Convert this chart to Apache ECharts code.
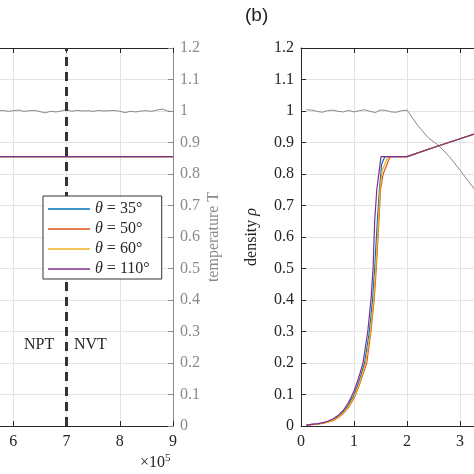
<!DOCTYPE html>
<html>
<head>
<meta charset="utf-8">
<script src="https://cdn.jsdelivr.net/npm/echarts@6/dist/echarts.min.js"></script>
<style>
  html, body { margin: 0; padding: 0; background: #fff; }
  #main { width: 474px; height: 474px; }
</style>
</head>
<body>
<div id="main"></div>
<script>
// ---- data ----
var seriesNames = ['θ = 35°', 'θ = 50°', 'θ = 60°', 'θ = 110°'];
var seriesColors = ['#0072BD', '#D95319', '#EDB120', '#7E2F8E'];

// (a) right part: time step vs temperature / density
var stepsA = [5.7e5, 5.8e5, 5.9e5, 6.0e5, 6.1e5, 6.2e5, 6.3e5, 6.4e5, 6.5e5, 6.6e5, 6.7e5, 6.8e5,
  6.9e5, 7.0e5, 7.1e5, 7.2e5, 7.3e5, 7.4e5, 7.5e5, 7.6e5, 7.7e5, 7.8e5, 7.9e5, 8.0e5, 8.1e5,
  8.2e5, 8.3e5, 8.4e5, 8.5e5, 8.6e5, 8.7e5, 8.8e5, 8.9e5, 9.0e5];
var tempA = [1.000, 1.002, 0.999, 1.001, 1.003, 0.999, 1.001, 1.002, 0.998, 0.994, 0.999, 0.997,
  1.000, 1.005, 0.999, 1.002, 1.000, 1.001, 0.999, 1.002, 1.000, 1.001, 1.002, 0.999, 0.995,
  0.999, 0.997, 1.000, 1.001, 0.999, 1.003, 1.006, 1.000, 0.998];
var rhoStepsA = [5.7e5, 7.0e5, 9.0e5];
var rhoA = [0.855, 0.855, 0.855];

// (b) temperature vs density
var tempX = [0.1, 0.2, 0.3, 0.4, 0.5, 0.6, 0.7, 0.8, 0.9, 1.0, 1.1, 1.2, 1.3, 1.4, 1.5, 1.6, 1.7,
  1.8, 1.9, 2.0, 2.2, 2.4, 2.6, 2.8, 3.0, 3.26, 3.5];
var rhoTemp = [1.004, 1.003, 0.999, 0.996, 1.001, 1.003, 0.999, 0.997, 1.002, 0.997, 1.001, 1.004,
  0.999, 0.995, 1.003, 1.002, 0.997, 0.996, 1.001, 1.003, 0.955, 0.915, 0.89, 0.855, 0.812, 0.755, 0.70];

var lowX = [0.1, 0.2, 0.3, 0.4, 0.5, 0.6, 0.7, 0.8, 0.9, 1.0, 1.1];
var highX = [2.0, 2.5, 3.0, 3.5];
var highRho = [0.855, 0.884, 0.912, 0.940];

var x35 = [1.20, 1.29, 1.35, 1.39, 1.44, 1.48, 1.52, 1.58];
var rho35 = [0.003, 0.005, 0.007, 0.009, 0.013, 0.019, 0.029, 0.045, 0.067, 0.098, 0.145,
  0.20, 0.30, 0.40, 0.50, 0.65, 0.75, 0.83, 0.855];
var x50 = [1.24, 1.32, 1.38, 1.42, 1.47, 1.50, 1.55, 1.68];
var rho50 = [0.003, 0.004, 0.006, 0.008, 0.012, 0.017, 0.026, 0.040, 0.060, 0.088, 0.130,
  0.20, 0.30, 0.40, 0.50, 0.65, 0.75, 0.80, 0.855];
var x60 = [1.22, 1.31, 1.37, 1.41, 1.46, 1.49, 1.53, 1.64];
var rho60 = [0.003, 0.004, 0.006, 0.009, 0.012, 0.018, 0.027, 0.042, 0.063, 0.092, 0.135,
  0.20, 0.30, 0.40, 0.50, 0.65, 0.75, 0.81, 0.855];
var x110 = [1.17, 1.26, 1.32, 1.36, 1.39, 1.43, 1.51];
var rho110 = [0.003, 0.005, 0.007, 0.010, 0.015, 0.022, 0.033, 0.050, 0.075, 0.110, 0.160,
  0.20, 0.30, 0.40, 0.50, 0.65, 0.75, 0.855];

var yTicks = { min: 0, max: 1.2, interval: 0.1 };

// ---- helpers ----
function zip(xs, ys) {
  var out = [];
  for (var i = 0; i < xs.length; i++) out.push([xs[i], ys[i]]);
  return out;
}
function curve(midX, rho) {
  return zip(lowX.concat(midX).concat(highX), rho.concat(highRho));
}

var serif = 'Liberation Serif';
var dark = '#262626';
var grey = '#8a8a8a';
var gridColor = '#e3e3e3';

function yLabel(v) { return String(+v.toFixed(1)); }

function bottomAxis(grid, min, max, interval, fmt) {
  return {
    type: 'value', gridIndex: grid, position: 'bottom', min: min, max: max, interval: interval,
    axisLine: { show: true, lineStyle: { color: dark, width: 1 } },
    axisTick: { show: true, inside: true, length: 5, lineStyle: { color: dark } },
    axisLabel: { margin: 8, fontFamily: serif, fontSize: 16, color: dark, formatter: fmt },
    splitLine: { show: true, lineStyle: { color: gridColor, width: 1 } }
  };
}
function topAxis(grid, min, max, interval) {
  return {
    type: 'value', gridIndex: grid, position: 'top', min: min, max: max, interval: interval,
    axisLine: { show: true, onZero: false, lineStyle: { color: dark, width: 1 } },
    axisTick: { show: true, inside: true, length: 5, lineStyle: { color: dark } },
    axisLabel: { show: false },
    splitLine: { show: false }
  };
}

var chart = echarts.init(document.getElementById('main'));

var series = [];
// (a) temperature
series.push({
  type: 'line', xAxisIndex: 0, yAxisIndex: 0, data: zip(stepsA, tempA),
  symbol: 'none', lineStyle: { color: grey, width: 1 }, z: 3
});
// (a) densities
[0, 1, 2, 3].forEach(function (k) {
  series.push({
    name: seriesNames[k], type: 'line', xAxisIndex: 0, yAxisIndex: 0, data: zip(rhoStepsA, rhoA),
    symbol: 'none', color: seriesColors[k], lineStyle: { color: seriesColors[k], width: 1.2 }, z: 4
  });
});
// (a) dashed switch line NPT -> NVT
series.push({
  type: 'line', xAxisIndex: 0, yAxisIndex: 0, data: [], symbol: 'none',
  markLine: {
    silent: true, symbol: 'none', label: { show: false },
    lineStyle: { color: '#333', width: 3, type: [9, 6] },
    data: [{ xAxis: 7e5 }]
  }, z: 6
});
// (b) temperature
series.push({
  type: 'line', xAxisIndex: 2, yAxisIndex: 1, data: zip(tempX, rhoTemp),
  symbol: 'none', lineStyle: { color: grey, width: 1 }, z: 3
});
// (b) densities
var curvesB = [curve(x35, rho35), curve(x50, rho50), curve(x60, rho60), curve(x110, rho110)];
curvesB.forEach(function (d, k) {
  series.push({
    name: seriesNames[k], type: 'line', xAxisIndex: 2, yAxisIndex: 1, data: d,
    symbol: 'none', color: seriesColors[k], lineStyle: { color: seriesColors[k], width: 1.2 }, z: 4
  });
});

var option = {
  animation: false,
  backgroundColor: '#fff',
  grid: [
    { left: -40, right: 301, top: 48, bottom: 48, containLabel: false, outerBoundsMode: 'none' },
    { left: 301, right: -39, top: 48, bottom: 48, containLabel: false, outerBoundsMode: 'none' }
  ],
  xAxis: [
    bottomAxis(0, 5e5, 9e5, 1e5, function (v) { return String(Math.round(v / 1e5)); }),
    topAxis(0, 5e5, 9e5, 1e5),
    bottomAxis(1, 0, 4, 1, function (v) { return String(v); }),
    topAxis(1, 0, 4, 1)
  ],
  yAxis: [
    {
      type: 'value', gridIndex: 0, position: 'right', min: yTicks.min, max: yTicks.max, interval: yTicks.interval,
      name: 'temperature T', nameLocation: 'middle', nameGap: 33, nameRotate: 90,
      nameTextStyle: { fontFamily: serif, fontSize: 16, color: grey },
      axisLine: { show: true, lineStyle: { color: grey, width: 1 } },
      axisTick: { show: true, inside: true, length: 5, lineStyle: { color: grey } },
      axisLabel: { margin: 7, fontFamily: serif, fontSize: 16, color: grey, formatter: yLabel },
      splitLine: { show: true, lineStyle: { color: gridColor, width: 1 } }
    },
    {
      type: 'value', gridIndex: 1, position: 'left', min: yTicks.min, max: yTicks.max, interval: yTicks.interval,
      name: 'density {it|ρ}', nameLocation: 'middle', nameGap: 41, nameRotate: 90,
      nameTextStyle: {
        fontFamily: serif, fontSize: 16, color: dark,
        rich: { it: { fontFamily: serif, fontSize: 16, fontStyle: 'italic', color: dark } }
      },
      axisLine: { show: true, lineStyle: { color: dark, width: 1 } },
      axisTick: { show: true, inside: true, length: 5, lineStyle: { color: dark } },
      axisLabel: { margin: 7, fontFamily: serif, fontSize: 16, color: dark, formatter: yLabel },
      splitLine: { show: true, lineStyle: { color: gridColor, width: 1 } }
    }
  ],
  legend: {
    data: seriesNames,
    orient: 'vertical', left: 43, top: 196,
    icon: 'rect', itemWidth: 42, itemHeight: 1.5, itemGap: 4,
    padding: [5, 12, 2, 5],
    backgroundColor: '#fff', borderColor: '#333', borderWidth: 1,
    selectedMode: false,
    textStyle: {
      fontFamily: serif, fontSize: 16, color: dark, lineHeight: 16,
      rich: { it: { fontFamily: serif, fontSize: 16, fontStyle: 'italic', color: dark } }
    },
    formatter: function (n) { return '{it|θ}' + n.slice(1); },
    z: 10
  },
  graphic: [
    { type: 'text', left: 24, top: 337, style: { text: 'NPT', fontFamily: serif, fontSize: 16, fill: dark } },
    { type: 'text', left: 74, top: 337, style: { text: 'NVT', fontFamily: serif, fontSize: 16, fill: dark } },
    { type: 'text', left: 140, top: 453, style: {
        text: '×10{s|5}', fontFamily: serif, fontSize: 16, fill: dark,
        rich: { s: { fontFamily: serif, fontSize: 11, verticalAlign: 'bottom', padding: [0, 0, 8, 0], fill: dark } }
      } },
    { type: 'text', left: 245, top: 6, style: { text: '(b)', fontFamily: 'Liberation Sans', fontSize: 19, fill: '#222' } }
  ],
  series: series
};
chart.setOption(option);
</script>
</body>
</html>
